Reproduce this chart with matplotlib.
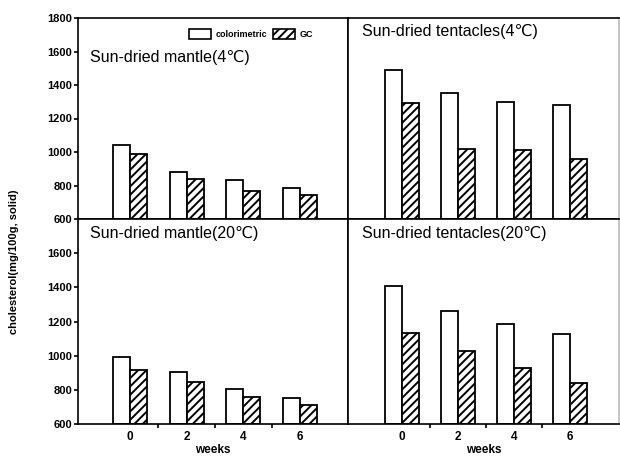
import matplotlib
matplotlib.use("Agg")
import matplotlib.pyplot as plt
from matplotlib.patches import Patch
import numpy as np

plt.rcParams['font.family'] = ['Liberation Sans', 'DejaVu Sans']
plt.rcParams['hatch.linewidth'] = 1.4

weeks = [0, 2, 4, 6]
week_labels = ['0', '2', '4', '6']
series_names = ['colorimetric', 'GC']

mantle_4_col = [1040, 880, 830, 785]
mantle_4_gc = [990, 840, 770, 745]
tentacles_4_col = [1490, 1350, 1300, 1280]
tentacles_4_gc = [1290, 1020, 1010, 960]
mantle_20_col = [990, 905, 805, 750]
mantle_20_gc = [915, 843, 760, 710]
tentacles_20_col = [1410, 1260, 1185, 1125]
tentacles_20_gc = [1135, 1030, 930, 840]

titles = ['Sun-dried mantle(4℃)', 'Sun-dried tentacles(4℃)',
          'Sun-dried mantle(20℃)', 'Sun-dried tentacles(20℃)']

W, H = 620, 457
fig = plt.figure(figsize=(W / 100, H / 100), dpi=100)

def px_axes(l, t, r, b):
    return fig.add_axes([l / W, 1 - b / H, (r - l) / W, (b - t) / H])

ax_tl = px_axes(78, 18, 348, 219)
ax_tr = px_axes(348, 18, 619, 219)
ax_bl = px_axes(78, 219, 348, 424)
ax_br = px_axes(348, 219, 619, 424)

panels = [
    (ax_tl, mantle_4_col, mantle_4_gc, titles[0], (0.044, 0.805)),
    (ax_tr, tentacles_4_col, tentacles_4_gc, titles[1], (0.052, 0.935)),
    (ax_bl, mantle_20_col, mantle_20_gc, titles[2], (0.044, 0.93)),
    (ax_br, tentacles_20_col, tentacles_20_gc, titles[3], (0.052, 0.93)),
]

x = np.array(weeks, dtype=float)
bw = 0.6
for i, (ax, col, gc, title, tpos) in enumerate(panels):
    ax.bar(x - bw / 2, np.array(col) - 600, bw, bottom=600, color='white',
           edgecolor='black', linewidth=1.3)
    ax.bar(x + bw / 2, np.array(gc) - 600, bw, bottom=600, color='white',
           edgecolor='black', linewidth=1.3, hatch='////')
    ax.set_ylim(600, 1800)
    if ax in (ax_tl, ax_bl):
        ax.set_xlim(-1.82, 7.68)
    else:
        ax.set_xlim(-1.93, 7.75)
    ax.text(tpos[0], tpos[1], title, transform=ax.transAxes, fontsize=11.5,
            ha='left', va='center')
    for s in ax.spines.values():
        s.set_linewidth(1.2)
        s.set_color('black')
    ax.set_xticks(x)
    ax.set_xticks([1, 3, 5], minor=True)
    if ax in (ax_bl, ax_br):
        ax.set_xticklabels(week_labels, fontsize=8.5, fontweight='bold')
        ax.tick_params(axis='x', which='major', length=0, pad=5)
        ax.tick_params(axis='x', which='minor', length=3, width=1.2, direction='out')
        ax.set_xlabel('weeks', fontsize=8.5, fontweight='bold', labelpad=1)
    else:
        ax.tick_params(axis='x', which='both', length=0, labelbottom=False)
    if ax is ax_tl:
        ax.set_yticks([600, 800, 1000, 1200, 1400, 1600, 1800])
    elif ax is ax_bl:
        ax.set_yticks([600, 800, 1000, 1200, 1400, 1600])
    else:
        ax.set_yticks([])
    ax.tick_params(axis='y', length=3, width=1.2, direction='out', pad=1,
                   labelsize=8)
    for lab in ax.get_yticklabels():
        lab.set_fontweight('bold')

ax_tr.spines['right'].set_color('#bbbbbb')
ax_br.spines['right'].set_color('#bbbbbb')

handles = [Patch(facecolor='white', edgecolor='black', linewidth=1.2),
           Patch(facecolor='white', edgecolor='black', linewidth=1.2, hatch='////')]
leg = ax_tl.legend(handles, series_names, loc='center left',
                   bbox_to_anchor=(0.41, 0.92), ncol=2, frameon=False,
                   prop={'size': 6.5, 'weight': 'bold'},
                   handlelength=2.5, handleheight=1.4, handletextpad=0.5,
                   columnspacing=0.6, borderpad=0, borderaxespad=0)

fig.text(14 / W, 1 - 262 / H, 'cholesterol(mg/100g, solid)', rotation=90,
         ha='center', va='center', fontsize=8, fontweight='bold')

fig.savefig('out.png', dpi=100)
